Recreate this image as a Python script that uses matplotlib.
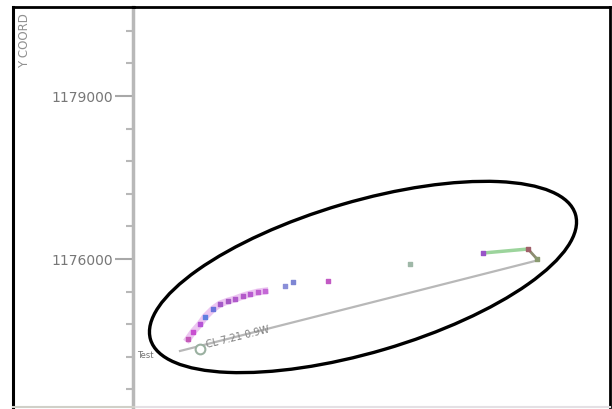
import matplotlib
matplotlib.use('Agg')
import matplotlib.pyplot as plt
from matplotlib.patches import Ellipse
from matplotlib.lines import Line2D
from matplotlib.ticker import MultipleLocator, NullLocator, FuncFormatter

# Track fixes (easting, northing) and their colours
track_x = [453012, 453104, 453233, 453325, 453472, 453601, 453748, 453877,
           454024, 454153, 454300, 454429]
track_y = [1174528, 1174657, 1174804, 1174933, 1175080, 1175172, 1175227,
           1175264, 1175319, 1175356, 1175393, 1175411]
track_c = ['#c45ab8', '#c84fd0', '#b655d6', '#5f7fe0', '#6a74dc', '#a55ac8',
           '#a659c4', '#b05acb', '#b35ac9', '#b85bd0', '#c060d0', '#c468d6']

# Isolated fixes further along
fix_x = [454797, 454944, 455588, 457097, 458440, 459268, 459434]
fix_y = [1175503, 1175577, 1175595, 1175908, 1176110, 1176184, 1176000]
fix_c = ['#8a8fd8', '#7e86d4', '#c25ac4', '#9fb8a8', '#9955c8', '#a0606a',
         '#8a9a70']

# Reference line between the start and end stations
ref_x = [452865, 459397]
ref_y = [1174307, 1175963]
station_x = 453233
station_y = 1174344
station_label = 'CL 7.21 0.9W'

# Region enclosing the survey
zone_center = (456232, 1175669)
zone_width = 8151
zone_height = 2778
zone_angle = 16.4

xlim = (452000, 460777)
ylim = (1173276, 1180638)

fig = plt.figure(figsize=(6.12, 4.10), dpi=100)
ax = fig.add_axes([133 / 612, 2 / 410, 477 / 612, 400 / 410])
ax.set_facecolor('none')

ax.plot(ref_x, ref_y, color='#b8b8b8', lw=1.6, zorder=2)
ax.plot(station_x, station_y, 'o', ms=7, mfc='white', mec='#9ab0a0',
        mew=1.5, zorder=4)
ax.text(station_x + 120, station_y + 40, station_label, rotation=14,
        rotation_mode='anchor', fontsize=7, color='#808080', zorder=4)
ax.text(452080, 1174200, 'Test', fontsize=6, color='#707070', zorder=4)

ax.plot(track_x, track_y, color='#e0a0e8', lw=5, alpha=0.6, zorder=2)
ax.scatter(track_x, track_y, c=track_c, marker='s', s=11, zorder=3)

# short segments joining the last fixes
ax.plot(fix_x[4:6], fix_y[4:6], color='#9cd49c', lw=2.5, zorder=2)
ax.plot(fix_x[5:7], fix_y[5:7], color='#8c8c70', lw=2, zorder=2)
ax.scatter(fix_x, fix_y, c=fix_c, marker='s', s=11, zorder=3)

ax.add_patch(Ellipse(zone_center, zone_width, zone_height, angle=zone_angle,
                     fill=False, ec='black', lw=2.4, zorder=5))

ax.set_xlim(xlim)
ax.set_ylim(ylim)

ax.xaxis.set_major_locator(NullLocator())
ax.yaxis.set_major_locator(MultipleLocator(3000))
ax.yaxis.set_minor_locator(MultipleLocator(600))
ax.yaxis.set_major_formatter(FuncFormatter(lambda v, pos: '%d' % v))
ax.tick_params(axis='y', which='major', length=13, width=1.5,
               color='#a8a8a8', labelsize=10, labelcolor='#777777', pad=1)
ax.tick_params(axis='y', which='minor', length=5, width=1.5,
               color='#b8b8b8')

ax.spines['left'].set_color('#b8b8b8')
ax.spines['left'].set_linewidth(2.5)
ax.spines['bottom'].set_color('#e4e0e4')
ax.spines['bottom'].set_linewidth(1.5)
for side in ['top', 'right']:
    ax.spines[side].set_color('black')
    ax.spines[side].set_linewidth(2)

# outer frame around the axis strip
W, H = 612.0, 410.0
fig.add_artist(Line2D([13 / W, 13 / W], [2 / H, 402 / H], color='black',
                      lw=2.2, transform=fig.transFigure))
fig.add_artist(Line2D([13 / W, 134 / W], [402 / H, 402 / H], color='black',
                      lw=2, transform=fig.transFigure))
fig.add_artist(Line2D([13 / W, 134 / W], [2 / H, 2 / H], color='#d0d0c8',
                      lw=1.5, transform=fig.transFigure))

fig.text(25 / W, 1 - 13 / H, 'Y COORD', rotation=90, ha='center', va='top',
         fontsize=8.5, color='#909090')

plt.savefig('out.png', dpi=100)
